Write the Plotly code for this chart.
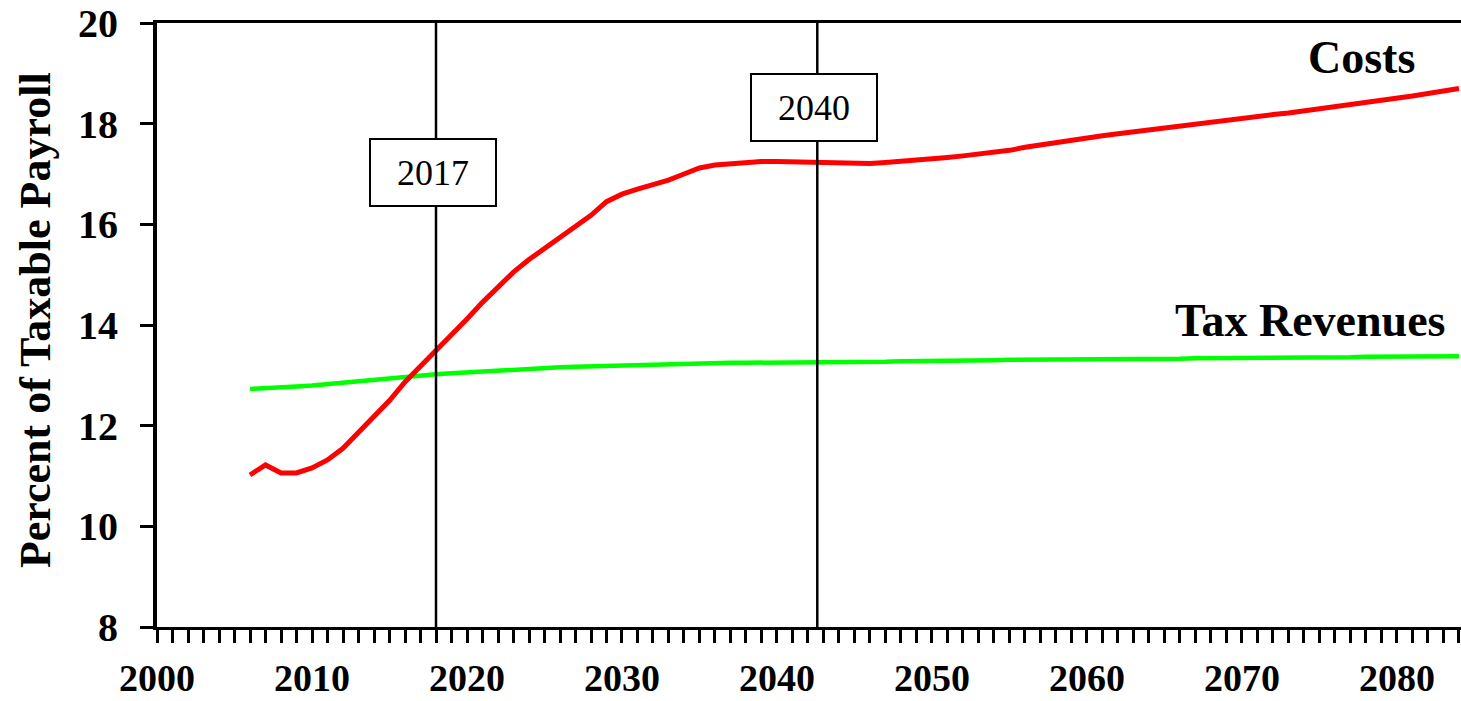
import plotly.graph_objects as go

# ---- data ----
cost_years = list(range(2006, 2085))
cost_values = [
    11.02, 11.22, 11.06, 11.06, 11.16, 11.32, 11.55, 11.86, 12.20, 12.50,   # 2006-2015
    12.87, 13.18, 13.48, 13.80, 14.12, 14.45, 14.76, 15.05, 15.30, 15.52,   # 2016-2025
    15.76, 15.95, 16.18, 16.45, 16.60, 16.70, 16.78, 16.88, 17.00, 17.12,   # 2026-2035
    17.18, 17.21, 17.23, 17.25, 17.25, 17.24, 17.23, 17.22, 17.21, 17.20,   # 2036-2045
    17.21, 17.23, 17.25, 17.27, 17.30, 17.33, 17.36, 17.39, 17.42, 17.47,   # 2046-2055
    17.53, 17.58, 17.63, 17.67, 17.72, 17.76, 17.80, 17.84, 17.88, 17.92,   # 2056-2065
    17.95, 17.99, 18.03, 18.07, 18.11, 18.14, 18.18, 18.21, 18.25, 18.29,   # 2066-2075
    18.33, 18.38, 18.42, 18.46, 18.51, 18.55, 18.60, 18.65, 18.70,          # 2076-2084
]

revenue_years = list(range(2006, 2085))
revenue_values = [
    12.73, 12.74, 12.76, 12.78, 12.80, 12.83, 12.86, 12.89, 12.92, 12.95,   # 2006-2015
    12.97, 12.99, 13.02, 13.04, 13.06, 13.08, 13.10, 13.12, 13.13, 13.15,   # 2016-2025
    13.16, 13.17, 13.18, 13.19, 13.20, 13.21, 13.22, 13.23, 13.24, 13.25,   # 2026-2035
    13.25, 13.25, 13.25, 13.25, 13.25, 13.25, 13.25, 13.25, 13.25, 13.26,   # 2036-2045
    13.27, 13.27, 13.28, 13.28, 13.29, 13.29, 13.30, 13.30, 13.30, 13.31,   # 2046-2055
    13.31, 13.31, 13.32, 13.32, 13.32, 13.32, 13.33, 13.33, 13.33, 13.33,   # 2056-2065
    13.33, 13.34, 13.34, 13.34, 13.34, 13.35, 13.35, 13.35, 13.35, 13.36,   # 2066-2075
    13.36, 13.36, 13.37, 13.37, 13.37, 13.38, 13.38, 13.38, 13.38,          # 2076-2084
]

x_tick_values = [2000, 2010, 2020, 2030, 2040, 2050, 2060, 2070, 2080]
x_tick_labels = ["2000", "2010", "2020", "2030", "2040", "2050", "2060", "2070", "2080"]
y_tick_values = [8, 10, 12, 14, 16, 18, 20]
y_tick_labels = ["8", "10", "12", "14", "16", "18", "20"]

marker_lines_x = [2018.0, 2042.6]
marker_labels = ["2017", "2040"]
marker_label_y = [17.02, 18.32]

series_labels = ["Costs", "Tax Revenues"]
series_label_x = [2077.7, 2074.45]
series_label_y = [19.32, 14.08]

FONT = "Liberation Serif"

fig = go.Figure()
fig.add_trace(go.Scatter(x=revenue_years, y=revenue_values, mode="lines",
                         line=dict(color="#00ff00", width=4.5), name="Tax Revenues",
                         showlegend=False))
fig.add_trace(go.Scatter(x=cost_years, y=cost_values, mode="lines",
                         line=dict(color="#ff0000", width=5), name="Costs",
                         showlegend=False))

for xv in marker_lines_x:
    fig.add_shape(type="line", xref="x", yref="paper", x0=xv, x1=xv, y0=0, y1=1,
                  line=dict(color="black", width=2.5), layer="above")

for xv, lab, yv in zip(marker_lines_x, marker_labels, marker_label_y):
    fig.add_annotation(x=xv, y=yv, xref="x", yref="y", text=lab, showarrow=False,
                       xshift=-3,
                       font=dict(family=FONT, size=36, color="black"),
                       bgcolor="white", bordercolor="black", borderwidth=2,
                       borderpad=0, width=124, height=65, align="center", valign="middle")

for lab, xv, yv in zip(series_labels, series_label_x, series_label_y):
    fig.add_annotation(x=xv, y=yv, xref="x", yref="y", text=lab, showarrow=False,
                       font=dict(family=FONT, size=46, color="black", weight="bold"),
                       xanchor="center", yanchor="middle")

fig.add_annotation(x=-0.0936, y=0.508, xref="paper", yref="paper",
                   text="Percent of Taxable Payroll", showarrow=False, textangle=-90,
                   font=dict(family=FONT, size=44, color="black", weight="bold"),
                   xanchor="center", yanchor="middle")

fig.update_layout(
    width=1461, height=701,
    margin=dict(l=157, r=0, t=23, b=74, autoexpand=False),
    plot_bgcolor="white", paper_bgcolor="white",
    showlegend=False,
)
fig.update_xaxes(
    range=[2000, 2084.13], showgrid=False, zeroline=False,
    showline=True, linecolor="black", linewidth=3, mirror=True,
    tickmode="array", tickvals=x_tick_values, ticktext=x_tick_labels,
    ticks="outside", ticklen=13, tickwidth=3, tickcolor="black",
    ticklabelstandoff=2,
    minor=dict(dtick=1, tick0=2000, ticks="outside", ticklen=13, tickwidth=3,
               tickcolor="black", showgrid=False),
    tickfont=dict(family=FONT, size=38, color="black", weight="bold"),
    automargin=False,
)
fig.update_yaxes(
    range=[8, 20], showgrid=False, zeroline=False,
    showline=True, linecolor="black", linewidth=4,
    tickmode="array", tickvals=y_tick_values, ticktext=y_tick_labels,
    ticks="outside", ticklen=13, tickwidth=3, tickcolor="black",
    ticklabelstandoff=14,
    tickfont=dict(family=FONT, size=40, color="black", weight="bold"),
    automargin=False,
)

fig.write_html(
    "out.html",
    config={"displayModeBar": False},
    post_script="document.body.style.margin='0';document.body.style.overflow='hidden';",
)
